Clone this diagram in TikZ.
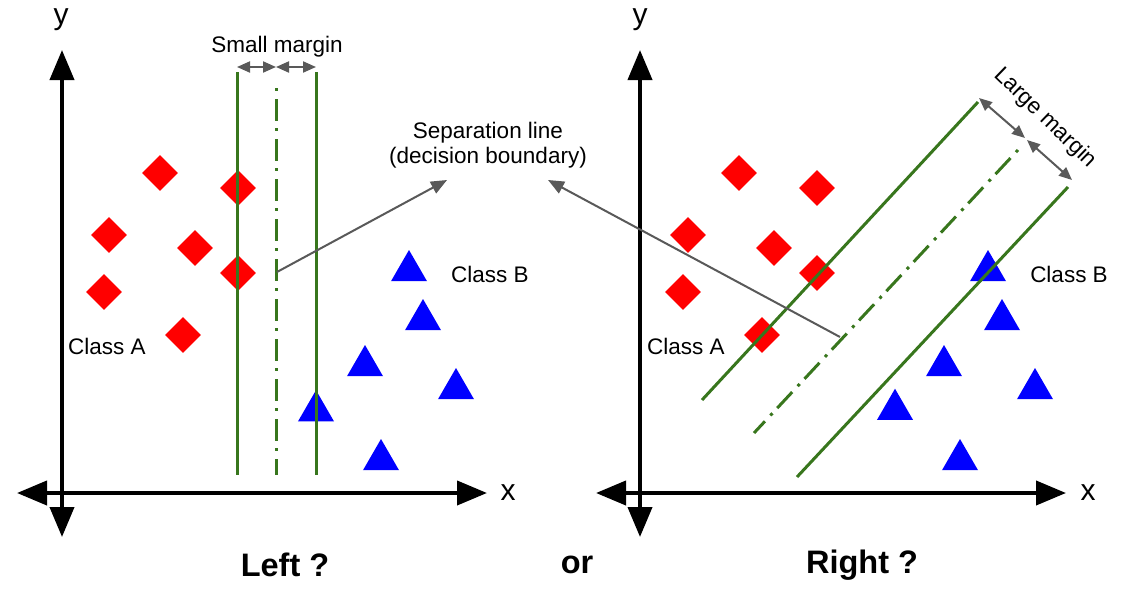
\documentclass[tikz,border=0pt]{standalone}
\usepackage{fontspec}
\setmainfont{Liberation Sans}
\usetikzlibrary{arrows.meta,shapes.geometric}
\definecolor{mgreen}{HTML}{38761D}
\definecolor{mgray}{HTML}{595959}
\definecolor{mred}{HTML}{FF0000}
\definecolor{mblue}{HTML}{0000FF}
\tikzset{
  axis/.style={line width=4pt, {Triangle[length=30pt,width=24pt]}-{Triangle[length=30pt,width=24pt]}},
  solidgreen/.style={draw=mgreen, line width=3pt},
  dashgreen/.style={draw=mgreen, line width=3pt, dash pattern=on 3pt off 8pt on 22pt off 7pt},
  marginarrow/.style={draw=mgray, line width=2pt, {Triangle[length=13pt,width=11pt]}-{Triangle[length=13pt,width=11pt]}},
  pointer/.style={draw=mgray, line width=2pt, -{Triangle[length=16pt,width=13pt]}},
  dia/.style={diamond, aspect=1, fill=mred, minimum width=36pt, minimum height=36pt, inner sep=0pt},
  tri/.style={regular polygon, regular polygon sides=3, fill=mblue, minimum size=41.6pt, inner sep=0pt},
  lbl/.style={font=\fontsize{22.5}{26}\selectfont, inner sep=0pt},
  axlbl/.style={font=\fontsize{30}{34}\selectfont, inner sep=0pt},
  big/.style={font=\fontsize{32.5}{38}\selectfont\bfseries, inner sep=0pt}
}
\begin{document}
\begin{tikzpicture}[x=1pt,y=-1pt]
\useasboundingbox (0,0) rectangle (1125,589);

% ---------------- Left panel ----------------
\node[dia] (la1) at (160,173) {};
\node[dia] (la2) at (238,188) {};
\node[dia] (la3) at (109,235) {};
\node[dia] (la4) at (195,248) {};
\node[dia] (la5) at (238,273) {};
\node[dia] (la6) at (104,292) {};
\node[dia] (la7) at (183,335) {};

\node[tri] (lb1) at (409,270.8) {};
\node[tri] (lb2) at (423,319.8) {};
\node[tri] (lb3) at (365,365.8) {};
\node[tri] (lb4) at (456,388.8) {};
\node[tri] (lb5) at (316,411) {};
\node[tri] (lb6) at (381,459.8) {};

\coordinate (lg1t) at (237,72);  \coordinate (lg1b) at (237,475);
\coordinate (lgdt) at (276,88);  \coordinate (lgdb) at (276,475);
\coordinate (lg2t) at (316,72);  \coordinate (lg2b) at (316,475);
\draw[solidgreen] (lg1t) -- (lg1b);
\draw[dashgreen] (lgdt) -- (lgdb);
\draw[solidgreen] (lg2t) -- (lg2b);

\coordinate (lm1) at (237,67); \coordinate (lm2) at (276,67); \coordinate (lm3) at (316,67);
\draw[marginarrow] (lm1) -- (lm2);
\draw[marginarrow] (lm2) -- (lm3);
\node[lbl] (smallm) at (277,47) {Small margin};

\coordinate (lxl) at (17,493); \coordinate (lxr) at (487,493);
\coordinate (lyb) at (62,537); \coordinate (lyt) at (62,50);
\draw[axis] (lxl) -- (lxr);
\draw[axis] (lyb) -- (lyt);
\node[axlbl] (lx) at (508,493) {x};
\node[axlbl] (ly) at (61,20) {y};

\node[lbl] (lca) at (107,346) {Class A};
\node[lbl] (lcb) at (490,274) {Class B};

% ---------------- Separation label ----------------
\node[lbl] (sep1) at (488,133) {Separation line};
\node[lbl] (sep2) at (488,158) {(decision boundary)};
\coordinate (lptr) at (277,272);
\coordinate (lptrend) at (447,180);
\coordinate (rptr) at (840,337);
\coordinate (rptrend) at (548,180);

% ---------------- Right panel ----------------
\node[dia] (ra1) at (739,173) {};
\node[dia] (ra2) at (817,188) {};
\node[dia] (ra3) at (688,235) {};
\node[dia] (ra4) at (774,248) {};
\node[dia] (ra5) at (817,273) {};
\node[dia] (ra6) at (683,292) {};
\node[dia] (ra7) at (762,335) {};

\node[tri] (rb1) at (988,270.8) {};
\node[tri] (rb2) at (1002,319.8) {};
\node[tri] (rb3) at (944,365.8) {};
\node[tri] (rb4) at (1035,388.8) {};
\node[tri] (rb5) at (895,409.5) {};
\node[tri] (rb6) at (960,459.8) {};

\coordinate (rg1t) at (978,102);  \coordinate (rg1b) at (702,400);
\coordinate (rgdt) at (1018,150); \coordinate (rgdb) at (754,433);
\coordinate (rg2t) at (1068,187); \coordinate (rg2b) at (797,477);
\draw[solidgreen] (rg1t) -- (rg1b);
\draw[dashgreen] (rgdt) -- (rgdb);
\draw[solidgreen] (rg2t) -- (rg2b);

\coordinate (rm1) at (979,98); \coordinate (rm2) at (1025,138);
\coordinate (rm3) at (1027,140); \coordinate (rm4) at (1072,180);
\draw[marginarrow] (rm1) -- (rm2);
\draw[marginarrow] (rm3) -- (rm4);
\node[lbl, rotate=-44] (largem) at (1045,118) {Large margin};

\coordinate (rxl) at (596,493); \coordinate (rxr) at (1066,493);
\coordinate (ryb) at (640,537); \coordinate (ryt) at (640,50);
\draw[axis] (rxl) -- (rxr);
\draw[axis] (ryb) -- (ryt);
\node[axlbl] (rx) at (1088,493) {x};
\node[axlbl] (ry) at (640,20) {y};

\node[lbl] (rca) at (686,346) {Class A};
\node[lbl] (rcb) at (1069,274) {Class B};

% pointers
\draw[pointer] (lptr) -- (lptrend);
\draw[pointer] (rptr) -- (rptrend);

% ---------------- Bottom labels ----------------
\node[big] (left) at (285,565) {Left ?};
\node[big] (or) at (577,565) {or};
\node[big] (right) at (862,565) {Right ?};
\end{tikzpicture}
\end{document}
